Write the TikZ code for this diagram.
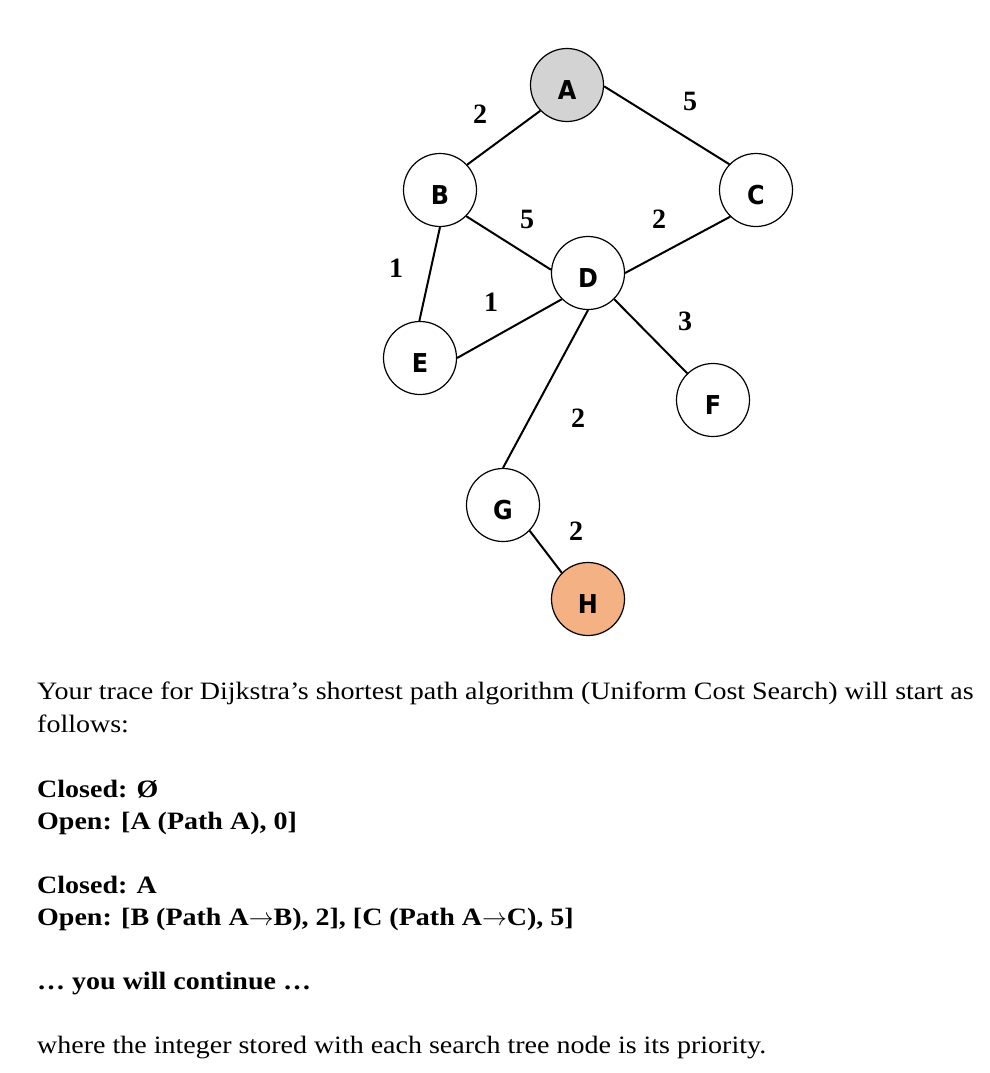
\documentclass[tikz,border=0pt]{standalone}
\usepackage{fontspec}
\setmainfont{Liberation Serif}
\newfontfamily\bodyfont{Liberation Serif}[FakeStretch=1.12]
\newfontfamily\nodefont{DejaVu Sans}[FakeStretch=0.92]
\definecolor{nodegray}{RGB}{211,211,211}
\definecolor{nodeorange}{RGB}{244,177,131}
\newcommand{\rarr}{\ensuremath{\rightarrow}}
\begin{document}
\begin{tikzpicture}[x=1pt,y=-1pt,
  vtx/.style={circle,draw=black,line width=1.2pt,fill=white,minimum size=73pt,inner sep=0pt,
    font=\nodefont\bfseries\fontsize{26}{26}\selectfont},
  vlabel/.style={inner sep=0pt,font=\nodefont\bfseries\fontsize{26}{26}\selectfont},
  edge/.style={line width=2pt},
  wlabel/.style={inner sep=0pt,font=\bfseries\fontsize{28}{28}\selectfont},
  txt/.style={anchor=base west,inner sep=0pt,font=\bodyfont\fontsize{25}{30}\selectfont},
  btxt/.style={txt,font=\bodyfont\bfseries\fontsize{25}{30}\selectfont}]
\useasboundingbox (0,0) rectangle (989,1073);
% nodes
\node[vtx,fill=nodegray] (A) at (567,85) {};
\node[vtx] (B) at (440,190) {};
\node[vtx] (C) at (756,190) {};
\node[vtx] (D) at (588,273) {};
\node[vtx] (E) at (420,358) {};
\node[vtx] (F) at (713,400) {};
\node[vtx] (G) at (503,505) {};
\node[vtx,fill=nodeorange] (H) at (588,599) {};
\foreach \n in {A,B,C,D,E,F,G,H}{
  \node[vlabel] (l\n) at ([yshift=-5pt]\n.center) {\n};
}
% edges
\draw[edge] (A.224) -- (B.43);
\draw[edge] (A.358) -- (C.136);
\draw[edge] (B.315) -- (D.175);
\draw[edge] (B.270) -- (E.91);
\draw[edge] (C.226) -- (D.0);
\draw[edge] (D.225) -- (E.0);
\draw[edge] (D.315) -- (F.134);
\draw[edge] (D.270) -- (G.90);
\draw[edge] (G.316) -- (H.135);
% weights
\node[wlabel] (wAB) at (480,114) {2};
\node[wlabel] (wAC) at (690,101) {5};
\node[wlabel] (wBD) at (527,219) {5};
\node[wlabel] (wCD) at (659,219) {2};
\node[wlabel] (wBE) at (396,268) {1};
\node[wlabel] (wDE) at (491,302) {1};
\node[wlabel] (wDF) at (685,321) {3};
\node[wlabel] (wDG) at (578,418) {2};
\node[wlabel] (wGH) at (576,531) {2};
% text
\node[txt] (t1) at (37,699) {Your trace for Dijkstra’s shortest path algorithm (Uniform Cost Search) will start as};
\node[txt] (t2) at (37,732) {follows:};
\node[btxt] (t3) at (37,797) {Closed: Ø};
\node[btxt] (t4) at (37,829) {Open: [A (Path A), 0]};
\node[btxt] (t5) at (37,893) {Closed: A};
\node[btxt] (t6) at (37,925) {Open: [B (Path A\rarr B), 2], [C (Path A\rarr C), 5]};
\node[btxt] (t7) at (37,989) {… you will continue …};
\node[txt] (t8) at (37,1053) {where the integer stored with each search tree node is its priority.};
\end{tikzpicture}
\end{document}
